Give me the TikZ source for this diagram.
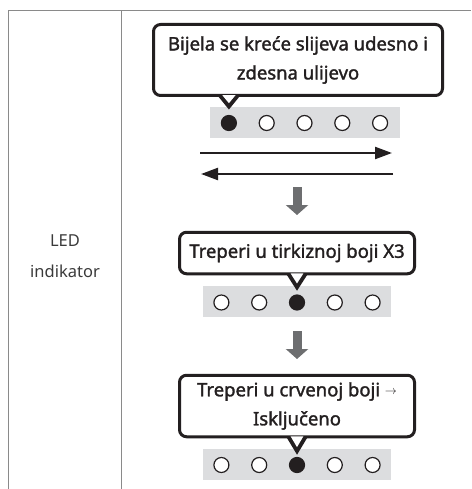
\documentclass[tikz,border=0pt]{standalone}
\usepackage{fontspec}
\setmainfont{Noto Sans}
\newfontfamily\bubblefont{Noto Sans}[FakeBold=1.6]
\usepackage{tikz}
\usetikzlibrary{arrows.meta,positioning,calc}
\definecolor{ledgray}{HTML}{DCDDDF}
\definecolor{arrgray}{HTML}{6D6E70}
\definecolor{ink}{HTML}{231F20}
\definecolor{rulegray}{HTML}{8A8A8A}
\definecolor{labelgray}{HTML}{3A3A3A}

\begin{document}
\begin{tikzpicture}[x=1pt,y=-1pt,
    bubble/.style={draw=ink,line width=3pt,rounded corners=7pt,fill=white,align=center,text=ink,inner sep=0pt,font=\bubblefont\fontsize{18.5}{29}\selectfont},
    row/.style={fill=ledgray,minimum height=31pt,inner sep=0pt},
    led/.style={circle,draw=ink,line width=1.2pt,fill=white,minimum size=15pt,inner sep=0pt},
    ledon/.style={led,fill=ink},
    lr/.style={-{Triangle[length=17pt,width=12pt]},line width=2.2pt,draw=ink},
    down/.style={-{Triangle[length=10pt,width=22pt]},line width=9pt,draw=arrgray}
]
\useasboundingbox (0,0) rectangle (471,489);

% table frame
\draw[rulegray,line width=1pt] (8,489) -- (8,11) -- (471,11);
\draw[rulegray,line width=1pt] (121,11) -- (121,489);
\node[align=center,text=labelgray,font=\fontsize{16.5}{31}\selectfont] (lbl) at (65,256) {LED\\indikator};

% first stage
\node[row,minimum width=190pt] (r1) at (304.5,122.5) {};
\foreach \i/\s in {1/ledon,2/led,3/led,4/led,5/led}
    \node[\s] (d1\i) at ($(r1)+({(\i-3)*37.8},0.5)$) {};
\node[bubble,minimum width=289pt,minimum height=71pt] (b1) at (298,60) {Bijela se kreće slijeva udesno i\\zdesna ulijevo};
\fill[ink] ($(d11 |- b1.south)+(-11.4,-1.5)$) -- ($(d11 |- b1.south)+(0,12.5)$) -- ($(d11 |- b1.south)+(11.4,-1.5)$) -- cycle;
\fill[white] ($(d11 |- b1.south)+(-6.6,-1.8)$) -- ($(d11 |- b1.south)+(0,6.2)$) -- ($(d11 |- b1.south)+(6.6,-1.8)$) -- cycle;

\coordinate (p1) at (200,153);
\coordinate (q1) at (392,153);
\coordinate (p2) at (393,174);
\coordinate (q2) at (201,174);
\draw[lr] (p1) -- (q1);
\draw[lr] (p2) -- (q2);

\coordinate (s1) at (297,187);
\coordinate (t1) at (297,215);
\draw[down] (s1) -- (t1);

% second stage
\node[row,minimum width=188pt] (r2) at (297,301.5) {};
\foreach \i/\s in {1/led,2/led,3/ledon,4/led,5/led}
    \node[\s] (d2\i) at ($(r2)+({(\i-3)*37.8},1)$) {};
\node[bubble,minimum width=235pt,minimum height=41.5pt] (b2) at (297,253) {Treperi u tirkiznoj boji X3};
\fill[ink] ($(d23 |- b2.south)+(-10.9,-1.5)$) -- ($(d23 |- b2.south)+(0,15.5)$) -- ($(d23 |- b2.south)+(10.9,-1.5)$) -- cycle;
\fill[white] ($(d23 |- b2.south)+(-6.4,-1.8)$) -- ($(d23 |- b2.south)+(0,8.2)$) -- ($(d23 |- b2.south)+(6.4,-1.8)$) -- cycle;

\coordinate (s2) at (297,331);
\coordinate (t2) at (297,359);
\draw[down] (s2) -- (t2);

% third stage
\node[row,minimum width=188pt] (r3) at (297,464) {};
\foreach \i/\s in {1/led,2/led,3/ledon,4/led,5/led}
    \node[\s] (d3\i) at ($(r3)+({(\i-3)*37.8},1)$) {};
\node[bubble,minimum width=235pt,minimum height=61.5pt] (b3) at (297,406) {Treperi u crvenoj boji \raisebox{2pt}{\fontsize{13}{13}\selectfont$\rightarrow$}\\Isključeno};
\fill[ink] ($(d33 |- b3.south)+(-10.8,-1.5)$) -- ($(d33 |- b3.south)+(0,16.5)$) -- ($(d33 |- b3.south)+(10.8,-1.5)$) -- cycle;
\fill[white] ($(d33 |- b3.south)+(-6.3,-1.8)$) -- ($(d33 |- b3.south)+(0,8.9)$) -- ($(d33 |- b3.south)+(6.3,-1.8)$) -- cycle;
\end{tikzpicture}
\end{document}
